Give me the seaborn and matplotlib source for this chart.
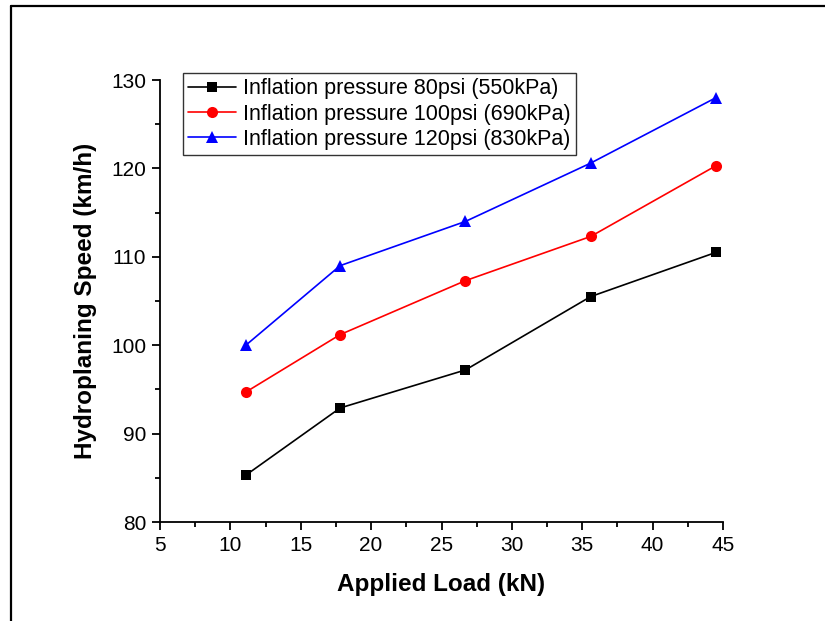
import matplotlib
matplotlib.use("Agg")
import matplotlib.pyplot as plt
from matplotlib.lines import Line2D
from matplotlib.ticker import MultipleLocator, AutoMinorLocator
import pandas as pd
import seaborn as sns

# Applied load (kN) and hydroplaning speed (km/h) for each inflation pressure
applied_load = [11.1, 17.8, 26.7, 35.6, 44.5]
speed_80psi = [85.3, 92.9, 97.2, 105.5, 110.5]
speed_100psi = [94.7, 101.2, 107.3, 112.3, 120.3]
speed_120psi = [100.0, 109.0, 114.0, 120.6, 128.0]
series_names = [
    "Inflation pressure 80psi (550kPa)",
    "Inflation pressure 100psi (690kPa)",
    "Inflation pressure 120psi (830kPa)",
]

frames = []
for name, vals in zip(series_names, [speed_80psi, speed_100psi, speed_120psi]):
    frames.append(pd.DataFrame({"load": applied_load, "speed": vals, "series": name}))
df = pd.concat(frames, ignore_index=True)

sns.set_theme(style="ticks")
plt.rcParams["font.family"] = ["Liberation Sans", "DejaVu Sans"]
plt.rcParams["text.color"] = "black"
plt.rcParams["axes.labelcolor"] = "black"

fig = plt.figure(figsize=(8.25, 6.21), dpi=100)
ax = fig.add_axes([160 / 825, 1 - 522 / 621, 563 / 825, 442 / 621])

palette = dict(zip(series_names, ["#000000", "#ff0000", "#0000ff"]))
markers = dict(zip(series_names, ["s", "o", "^"]))
sns.lineplot(
    data=df, x="load", y="speed", hue="series", style="series",
    palette=palette, markers=markers, dashes=False, ax=ax,
    linewidth=1.2, markeredgewidth=0, legend=False,
)
sizes = {"s": 6.5, "o": 8, "^": 9}
for line, name in zip(ax.lines, series_names):
    line.set_markersize(sizes[markers[name]])

ax.set_xlim(5, 45)
ax.set_ylim(80, 130)
ax.xaxis.set_major_locator(MultipleLocator(5))
ax.yaxis.set_major_locator(MultipleLocator(10))
ax.xaxis.set_minor_locator(AutoMinorLocator(2))
ax.yaxis.set_minor_locator(AutoMinorLocator(2))
ax.tick_params(which="major", direction="out", length=6, width=1.3,
               labelsize=15, color="black", labelcolor="black", pad=4)
ax.tick_params(which="minor", direction="out", length=3.5, width=1.3, color="black")
for side in ["top", "right"]:
    ax.spines[side].set_visible(False)
for side in ["left", "bottom"]:
    ax.spines[side].set_linewidth(1.3)
    ax.spines[side].set_color("black")

ax.set_xlabel("Applied Load (kN)", fontsize=17.5, fontweight="bold", labelpad=13)
ax.set_ylabel("Hydroplaning Speed (km/h)", fontsize=17.5, fontweight="bold", labelpad=10)

handles = [
    Line2D([], [], color=palette[n], marker=markers[n], markersize=sizes[markers[n]],
           markeredgewidth=0, linewidth=1.2)
    for n in series_names
]
leg = fig.legend(
    handles, series_names, loc="upper left",
    bbox_to_anchor=(183 / 825, 1 - 73 / 621), fontsize=15.5,
    frameon=True, fancybox=False, handlelength=2.2, handletextpad=0.35,
    borderpad=0.25, labelspacing=0.2, borderaxespad=0,
)
leg.get_frame().set_edgecolor("black")
leg.get_frame().set_linewidth(1.0)

# Outer frame lines (left and top edges)
fig.add_artist(Line2D([11 / 825, 11 / 825], [0, 1 - 6 / 621],
                      transform=fig.transFigure, color="black", linewidth=1.6))
fig.add_artist(Line2D([11 / 825, 1], [1 - 6 / 621, 1 - 6 / 621],
                      transform=fig.transFigure, color="black", linewidth=1.6))

fig.savefig("out.png", dpi=100, facecolor="white")
